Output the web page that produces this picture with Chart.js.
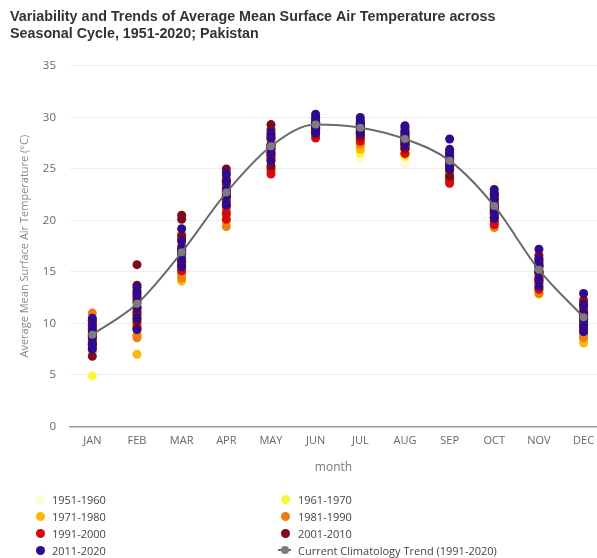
<!DOCTYPE html>
<html><head><meta charset="utf-8">
<script src="https://cdn.jsdelivr.net/npm/chart.js@4.4.0/dist/chart.umd.min.js"></script>
<style>
html,body{margin:0;padding:0;background:#fff;}
#wrap{position:relative;width:597px;height:558px;overflow:hidden;}
#c{position:absolute;left:0;top:0;}
#legend{position:absolute;left:0;top:0;width:597px;height:558px;pointer-events:none;font-family:'Open Sans',sans-serif;font-size:11px;color:#444;}
.li{position:absolute;height:17px;line-height:17px;white-space:nowrap;}
.dot{position:absolute;width:9px;height:9px;border-radius:50%;}
.ln{position:absolute;width:13px;height:2px;}
</style></head>
<body><div id="wrap"><canvas id="c" width="597" height="558"></canvas><div id="legend"></div></div>
<script>
const months = ['JAN','FEB','MAR','APR','MAY','JUN','JUL','AUG','SEP','OCT','NOV','DEC'];
const yTicks = [0,5,10,15,20,25,30,35];
const decadeLabels = ['1951-1960','1961-1970','1971-1980','1981-1990','1991-2000','2001-2010','2011-2020'];
const decadeColors = ['#fffbd8','#f9f53a','#f8b90a','#ef7d12','#d40a10','#7e0a1c','#2e0b8e'];
const trendLabel = 'Current Climatology Trend (1991-2020)';

// values per month (JAN..DEC), several years per decade
const d1951 = [
 [7.5,8.0,8.5,9.0,9.5,8.2],[10.0,11.0,12.0,11.5,10.5,12.5],[15.0,16.0,17.0,16.5,15.5,17.5],[20.5,21.5,22.5,21.0,22.0,23.0],
 [25.5,26.5,27.5,26.0,27.0,28.0],[28.5,29.0,29.5,28.8,29.2,29.0],[26.0,27.0,27.5,28.0,26.5,28.5],[25.5,26.0,26.5,27.0,27.5,26.8],
 [24.0,24.5,25.0,25.5,26.0,24.8],[19.5,20.5,21.5,22.5,23.5,21.0],[13.5,14.0,14.5,15.0,15.5,14.2],[9.0,9.5,10.0,10.5,11.0,9.8]];
const d1961 = [
 [4.9,7.8,8.3,8.8,9.2,8.0],[9.5,10.5,11.5,12.0,11.0,10.0],[14.5,15.5,16.5,17.0,16.0,15.0],[20.0,21.0,22.0,23.0,21.5,22.5],
 [25.0,26.0,27.0,28.0,26.5,27.5],[28.3,28.8,29.3,29.0,28.6,29.1],[26.5,27.2,27.8,28.3,28.8,27.0],[26.2,26.8,27.3,27.8,27.0,26.5],
 [24.2,24.7,25.2,25.7,26.2,25.0],[19.8,20.8,21.8,22.8,21.3,20.3],[12.8,13.8,14.8,15.5,14.3,13.3],[8.5,9.3,10.0,10.8,9.6,9.0]];
const d1971 = [
 [7.2,8.1,8.7,9.3,9.8,8.4],[7.0,9.0,10.0,11.0,12.0,9.5],[14.1,15.0,16.0,17.0,18.0,15.5],[19.8,20.8,21.8,22.8,21.2,22.2],
 [25.2,26.2,27.2,28.2,26.8,25.8],[28.4,28.9,29.4,29.0,28.7,29.2],[26.9,27.5,28.0,28.5,27.2,28.8],[26.4,26.9,27.4,27.9,27.1,28.2],
 [24.1,24.6,25.1,25.6,26.1,24.9],[19.7,20.7,21.7,22.7,21.2,20.2],[13.0,14.0,15.0,15.8,14.5,13.5],[8.1,9.0,9.8,10.6,9.4,8.6]];
const d1981 = [
 [11.0,8.4,9.0,9.6,10.2,7.8],[8.6,8.8,10.5,11.5,12.5,9.8],[14.4,18.7,15.2,16.2,17.2,14.8],[19.4,20.5,21.5,22.5,23.2,21.0],
 [24.8,25.8,26.8,27.8,26.3,27.3],[28.2,28.7,29.2,29.6,28.9,29.4],[27.4,27.9,28.4,28.9,28.1,29.2],[26.5,27.0,27.5,28.0,28.4,27.2],
 [24.6,24.3,25.3,25.8,26.3,25.0],[19.3,20.3,21.3,22.3,20.8,21.8],[12.9,13.9,14.9,15.6,14.4,13.4],[8.6,8.9,9.8,10.7,11.3,9.3]];
const d1991 = [
 [7.6,8.2,8.9,9.4,10.0,8.6],[9.6,10.8,11.6,12.6,13.2,11.2],[15.1,16.0,16.8,17.5,15.6,18.2],[20.1,20.7,21.4,22.4,23.5,24.0],
 [24.5,25.0,26.0,27.0,28.0,26.5],[28.0,28.5,29.0,29.5,28.8,29.3],[27.7,28.0,28.5,29.0,29.4,28.3],[26.5,26.9,27.4,27.9,28.3,27.6],
 [23.6,23.9,24.2,25.2,25.9,26.4],[19.6,19.9,20.6,21.6,22.4,21.0],[13.3,14.0,15.0,15.8,16.3,14.5],[9.8,10.5,11.2,11.8,12.3,10.9]];
const d2001 = [
 [6.8,8.0,8.8,9.5,10.3,7.9],[15.7,13.7,12.0,11.0,10.2,12.8],[20.5,20.1,17.0,16.0,18.5,15.8],[25.0,21.8,22.8,23.8,24.4,22.2],
 [29.3,25.3,26.3,27.3,28.3,28.8],[28.4,28.9,29.4,29.8,29.1,28.6],[28.2,28.6,29.1,29.5,28.8,29.3],[27.0,27.5,28.0,28.5,27.7,28.7],
 [24.3,24.9,25.5,26.2,26.6,25.2],[20.3,20.9,21.5,22.1,22.6,21.2],[14.2,14.9,15.5,16.0,16.6,15.2],[9.5,10.2,11.0,11.6,12.0,10.7]];
const d2011 = [
 [7.5,8.0,8.6,9.2,9.8,10.5],[9.4,10.5,11.5,12.3,13.0,13.5],[15.5,16.3,17.2,18.0,19.2,16.8],[21.5,22.3,23.0,23.8,24.6,22.7],
 [25.8,26.6,27.3,28.0,28.5,27.0],[28.5,29.0,29.5,30.0,30.3,29.3],[28.5,29.0,29.4,29.7,30.0,29.2],[27.3,27.8,28.2,28.6,29.0,29.2],
 [25.0,25.5,26.0,26.5,26.9,27.9],[20.2,20.8,21.4,22.0,22.5,23.0],[13.6,14.3,15.0,15.6,16.2,17.2],[9.2,9.8,10.4,11.0,11.8,12.9]];
const trendValues = [8.9,11.9,16.9,22.7,27.2,29.3,29.0,27.9,25.8,21.4,15.2,10.6];

const decadeData = [d1951,d1961,d1971,d1981,d1991,d2001,d2011];

const toPoints = arr => arr.flatMap((vals, m) => vals.map(v => ({x: m, y: v})));

const datasets = decadeData.map((d, i) => ({
  type: 'scatter',
  label: decadeLabels[i],
  data: toPoints(d),
  backgroundColor: decadeColors[i],
  borderColor: decadeColors[i],
  borderWidth: 0,
  pointRadius: 4.5,
  order: 10 - i
}));
datasets.push({
  type: 'line',
  label: trendLabel,
  data: trendValues.map((v, m) => ({x: m, y: v})),
  borderColor: '#6a6a6a',
  borderWidth: 2,
  pointRadius: 4,
  pointBackgroundColor: '#7d7d7d',
  pointBorderWidth: 0,
  cubicInterpolationMode: 'monotone',
  fill: false,
  order: 0
});

const chart = new Chart(document.getElementById('c'), {
  type: 'scatter',
  data: { datasets },
  options: {
    responsive: false,
    animation: false,
    layout: { autoPadding: false, padding: { left: 10, right: 0, top: 0, bottom: 79 } },
    plugins: {
      legend: { display: false },
      tooltip: { enabled: false },
      title: {
        display: true,
        text: ['Variability and Trends of Average Mean Surface Air Temperature across', 'Seasonal Cycle, 1951-2020; Pakistan'],
        align: 'start',
        color: '#333333',
        font: { family: 'Liberation Sans', size: 14.3, weight: 'bold', lineHeight: 1.15 },
        padding: { top: 9, bottom: 24 }
      }
    },
    scales: {
      x: {
        type: 'linear', min: -0.5, max: 11.3,
        afterBuildTicks: s => { s.ticks = months.map((m, i) => ({ value: i })); },
        afterFit: s => { s.paddingRight = 0; s.paddingLeft = 0; },
        ticks: { callback: v => months[v], color: '#666', font: { family: 'Open Sans', size: 11 }, padding: 8, autoSkip: false, maxRotation: 0 },
        grid: { color: 'rgba(0,0,0,0)', drawTicks: false },
        border: { display: true, color: '#9a9a9a', width: 1.5 },
        title: { display: true, text: 'month', color: '#777', font: { family: 'Open Sans', size: 12 }, padding: { top: 5, bottom: 4 } }
      },
      y: {
        min: 0, max: 35,
        afterBuildTicks: s => { s.ticks = yTicks.map(v => ({ value: v })); },
        ticks: { color: '#666', font: { family: 'Open Sans', size: 11.5 }, padding: 14 },
        grid: { color: '#eeeeee', drawTicks: false },
        border: { display: false },
        title: { display: true, text: 'Average Mean Surface Air Temperature (°C)', color: '#888', font: { family: 'Open Sans', size: 11 }, padding: { top: 8, bottom: 0 } },
        afterFit: s => { s.width = 60; }
      }
    }
  }
});

// HTML legend built from the chart datasets, in 2 columns
const leg = document.getElementById('legend');
chart.data.datasets.forEach((ds, i) => {
  const col = i % 2, row = Math.floor(i / 2);
  const cy = 499 + row * 17;
  const dotX = col === 0 ? 40 : 285;
  const textX = col === 0 ? 52 : 298;
  if (ds.type === 'line') {
    const l = document.createElement('div');
    l.className = 'ln'; l.style.left = (dotX - 7) + 'px'; l.style.top = (cy - 1) + 'px'; l.style.background = ds.borderColor;
    leg.appendChild(l);
  }
  const d = document.createElement('div');
  d.className = 'dot';
  d.style.left = (dotX - 4.5) + 'px'; d.style.top = (cy - 4.5) + 'px';
  d.style.background = ds.type === 'line' ? ds.pointBackgroundColor : ds.backgroundColor;
  if (ds.type === 'line') { d.style.width = '8px'; d.style.height = '8px'; d.style.left = (dotX - 4) + 'px'; d.style.top = (cy - 4) + 'px'; }
  leg.appendChild(d);
  const t = document.createElement('div');
  t.className = 'li'; t.textContent = ds.label;
  t.style.left = textX + 'px'; t.style.top = (cy - 8.5) + 'px';
  leg.appendChild(t);
});
</script>
</body></html>
